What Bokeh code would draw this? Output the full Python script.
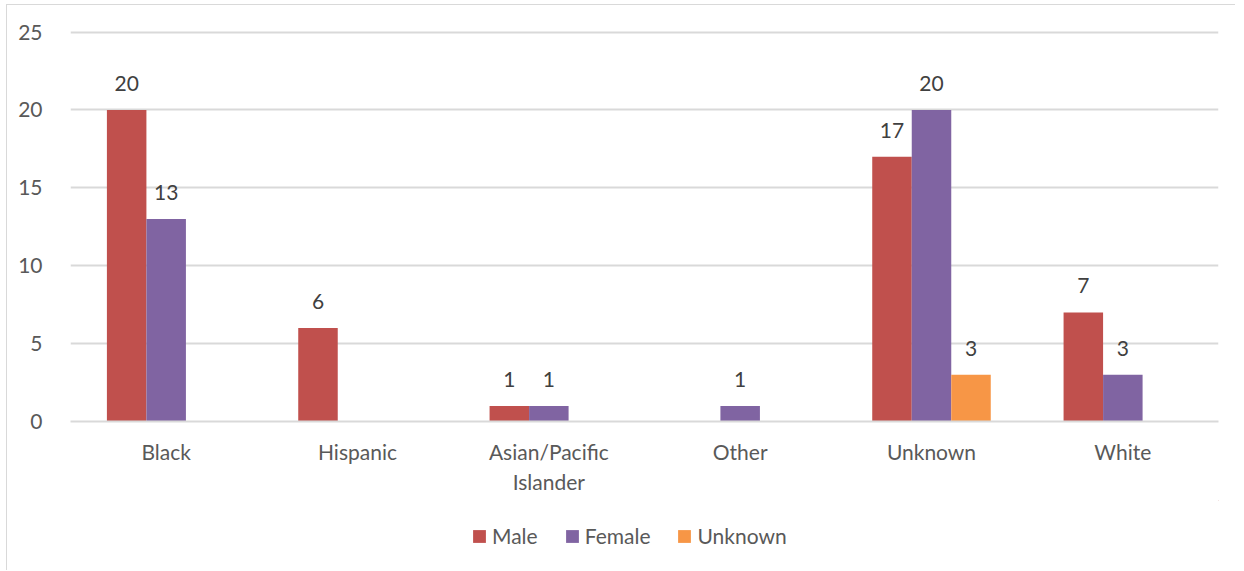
from bokeh.plotting import figure
from bokeh.models import ColumnDataSource, FixedTicker, Legend, LegendItem, LabelSet
from bokeh.layouts import column
from bokeh.core.properties import value
from bokeh.embed import file_html
from bokeh.resources import INLINE

categories = ["Black", "Hispanic", "Asian/Pacific\nIslander", "Other", "Unknown", "White"]
male = [20, 6, 1, 0, 17, 7]
female = [13, 0, 1, 1, 20, 3]
unknown = [0, 0, 0, 0, 3, 0]
series_names = ["Male", "Female", "Unknown"]
series_values = [male, female, unknown]
colors = ["#C0504D", "#8064A2", "#F79646"]

FONT = "Lato"
FS = "21px"
W, H1, H2 = 1228, 495, 70
p = figure(width=W, height=H1, output_backend="svg", toolbar_location=None,
           x_range=(0, len(categories)), y_range=(0, 25.1),
           min_border_left=63, min_border_right=17, min_border_top=25, min_border_bottom=79)
p.outline_line_color = None

bw = 0.2065
offsets = [-bw, 0, bw]
for name, vals, col, off in zip(series_names, series_values, colors, offsets):
    xs = [i + 0.5 + off for i, v in enumerate(vals) if v > 0]
    ys = [v for v in vals if v > 0]
    src = ColumnDataSource(dict(x=xs, top=ys, label=[str(v) for v in ys]))
    p.vbar(x="x", top="top", width=bw, source=src, fill_color=col, line_color=None)
    p.add_layout(LabelSet(x="x", y="top", text="label", source=src, text_align="center",
                          text_baseline="bottom", y_offset=19, text_font=value(FONT),
                          text_font_size=FS, text_color="#404040"))

p.xaxis.ticker = FixedTicker(ticks=[i + 0.5 for i in range(len(categories))])
p.xaxis.major_label_overrides = {i + 0.5: c for i, c in enumerate(categories)}
p.yaxis.ticker = FixedTicker(ticks=[0, 5, 10, 15, 20, 25])
for ax in (p.xaxis, p.yaxis):
    ax.major_tick_line_color = None
    ax.minor_tick_line_color = None
    ax.major_label_text_font = FONT
    ax.major_label_text_font_size = FS
    ax.major_label_text_color = "#595959"
p.xaxis.axis_line_color = "#D9D9D9"
p.xaxis.axis_line_width = 2
p.yaxis.axis_line_color = None
p.xaxis.major_label_standoff = 11
p.yaxis.major_label_standoff = 22
p.xgrid.grid_line_color = None
p.ygrid.grid_line_color = "#D9D9D9"
p.ygrid.grid_line_width = 2

# legend panel
lg = figure(width=W, height=H2, output_backend="svg", toolbar_location=None,
            x_range=(0, 1), y_range=(0, 1), min_border=0,
            x_axis_location=None, y_axis_location=None)
lg.outline_line_color = None
lg.grid.visible = False
items = []
for name, col in zip(series_names, colors):
    r = lg.vbar(x=[5], top=[5], bottom=[4], width=0.1, fill_color=col, line_color=None)
    items.append(LegendItem(label=name, renderers=[r]))
legend = Legend(items=items, orientation="horizontal", location=(401, 22),
                label_text_font=FONT, label_text_font_size=FS, label_text_color="#595959",
                glyph_width=16, glyph_height=16, spacing=26, label_standoff=5,
                border_line_color=None, background_fill_alpha=0, padding=0, margin=0)
lg.add_layout(legend, "center")

layout = column(p, lg, spacing=0,
                styles={"margin-left": "6px", "margin-top": "4px",
                        "border-left": "1px solid #D9D9D9", "border-top": "1px solid #D9D9D9"})

open("out.html", "w").write(file_html(layout, INLINE))
